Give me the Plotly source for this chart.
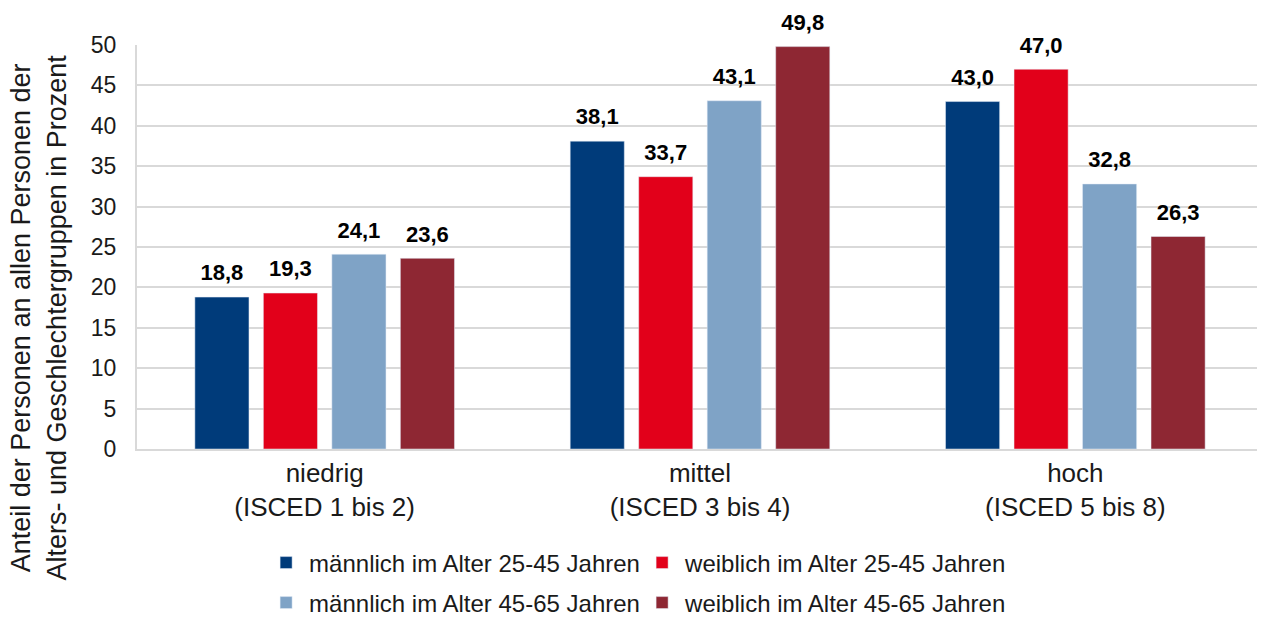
import plotly.graph_objects as go

categories = ["niedrig<br>(ISCED 1 bis 2)", "mittel<br>(ISCED 3 bis 4)", "hoch<br>(ISCED 5 bis 8)"]
series_names = [
    "männlich im Alter 25-45 Jahren",
    "weiblich im Alter 25-45 Jahren",
    "männlich im Alter 45-65 Jahren",
    "weiblich im Alter 45-65 Jahren",
]
m_25_45 = [18.8, 38.1, 43.0]
w_25_45 = [19.3, 33.7, 47.0]
m_45_65 = [24.1, 43.1, 32.8]
w_45_65 = [23.6, 49.8, 26.3]
colors = ["#003B7A", "#E2001A", "#7FA3C6", "#8E2733"]
legends = ["legend", "legend", "legend2", "legend2"]
y_title = "Anteil der Personen an allen Personen der<br>Alters- und Geschlechtergruppen in Prozent"

FONT = "Liberation Sans, Arial, sans-serif"
TXT = "#1a1a1a"

fig = go.Figure()
for name, vals, col, lg in zip(series_names, [m_25_45, w_25_45, m_45_65, w_45_65], colors, legends):
    fig.add_trace(go.Bar(
        x=categories, y=vals, name=name, marker_color=col, legend=lg,
        texttemplate="<span style='font-size:22px'><b>%{y:.1f}</b></span><br> ",
        textposition="outside", constraintext="none",
        textfont=dict(size=9, color="#000000", family=FONT),
        cliponaxis=False,
    ))

legend_common = dict(
    orientation="h", xref="paper", x=0.112, xanchor="left",
    yref="container", yanchor="middle",
    entrywidth=325, entrywidthmode="pixels", itemwidth=36,
    font=dict(size=24, color=TXT, family=FONT),
    bgcolor="rgba(0,0,0,0)",
)

fig.update_layout(
    width=1257, height=609,
    margin=dict(l=129, r=2, t=37, b=168),
    paper_bgcolor="white", plot_bgcolor="white",
    separators=",.",
    barmode="group", bargap=0.27, bargroupgap=0.21,
    font=dict(family=FONT, color=TXT),
    xaxis=dict(
        tickfont=dict(size=26, color=TXT),
        showline=True, linecolor="#d9d9d9", linewidth=2,
        ticks="", showgrid=False, automargin=False,
    ),
    yaxis=dict(
        range=[0, 50], dtick=5,
        tickfont=dict(size=23, color=TXT),
        showgrid=True, gridcolor="#d9d9d9", gridwidth=2,
        showline=True, linecolor="#d9d9d9", linewidth=2,
        zeroline=False, ticks="", ticklabelstandoff=14, automargin=False,
    ),
    legend=dict(legend_common, y=0.0887),
    legend2=dict(legend_common, y=0.023),
    annotations=[dict(
        text=y_title, textangle=-90, showarrow=False,
        xref="paper", yref="paper", x=-0.0875, y=0.3267,
        xanchor="center", yanchor="middle", borderpad=0,
        font=dict(size=27, color=TXT, family=FONT),
    )],
)

fig.write_html("out.html")
